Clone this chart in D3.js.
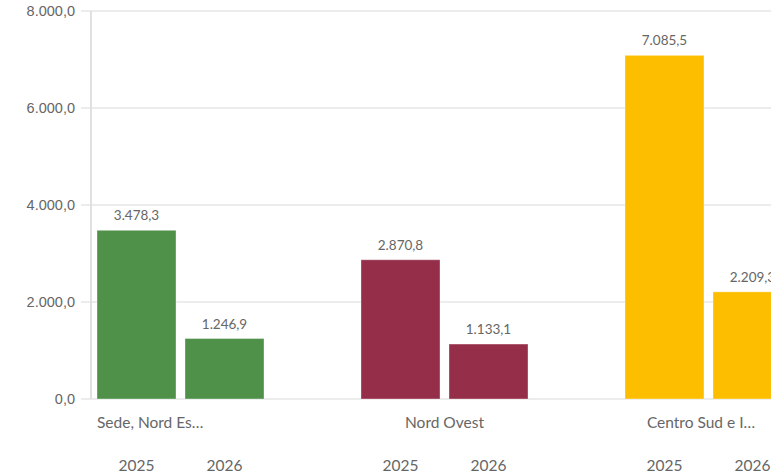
<!DOCTYPE html>
<html><head><meta charset="utf-8">
<script src="https://cdn.jsdelivr.net/npm/d3@7"></script>
<style>
html,body{margin:0;padding:0;background:#fff;overflow:hidden;}
svg{display:block;font-family:"Lato","Open Sans",sans-serif;}
</style></head>
<body><svg id="c" width="771" height="473"></svg>
<script>
const categories = ["Sede, Nord Es…", "Nord Ovest", "Centro Sud e I…"];
const years = ["2025", "2026"];
const values2025 = [3478.3, 2870.8, 7085.5];
const values2026 = [1246.9, 1133.1, 2209.3];
const colors = ["#4f9148", "#952e49", "#fdbe00"];
const yTicks = [0, 2000, 4000, 6000, 8000];

const W = 771, H = 473;
const svg = d3.select("#c");
const fmt = v => d3.formatLocale({decimal: ",", thousands: ".", grouping: [3], currency: ["", "€"]}).format(",.1f")(v);

const y = d3.scaleLinear().domain([0, 8000]).range([399, 11]);
const x0 = d3.scaleBand().domain(categories).range([97, 792]).paddingInner(0.3674).paddingOuter(0);
const x1 = d3.scaleBand().domain(years).range([0, x0.bandwidth()]).paddingInner(0.1023);

// grid
const grid = svg.append("g");
grid.selectAll("line").data(yTicks).join("line")
  .attr("x1", 81).attr("x2", W)
  .attr("y1", d => y(d)).attr("y2", d => y(d))
  .attr("stroke", "#e6e6e6").attr("stroke-width", 1.5);

// y axis
const yAxis = d3.axisLeft(y).tickValues(yTicks).tickFormat(fmt).tickSize(0).tickPadding(16);
const ga = svg.append("g").attr("transform", "translate(91,0)").call(yAxis);
ga.select(".domain").remove();
ga.selectAll("text").attr("fill", "#666").attr("font-size", 14.5).attr("dy", "0.32em");
svg.append("line").attr("x1", 91).attr("x2", 91).attr("y1", y(8000)).attr("y2", y(0))
  .attr("stroke", "#e0e0e0").attr("stroke-width", 2);

// bars
const rows = categories.map((c, i) => ({cat: c, color: colors[i], vals: [values2025[i], values2026[i]]}));
const g = svg.selectAll("g.grp").data(rows).join("g").attr("class", "grp")
  .attr("transform", d => `translate(${x0(d.cat)},0)`);
g.selectAll("rect").data(d => d.vals.map((v, j) => ({v, yr: years[j], color: d.color}))).join("rect")
  .attr("x", d => x1(d.yr)).attr("width", x1.bandwidth())
  .attr("y", d => y(d.v)).attr("height", d => y(0) - y(d.v))
  .attr("fill", d => d.color).attr("stroke", "#fff").attr("stroke-opacity", 0.35).attr("stroke-width", 1);
g.selectAll("text.val").data(d => d.vals.map((v, j) => ({v, yr: years[j]}))).join("text")
  .attr("class", "val")
  .attr("x", d => x1(d.yr) + x1.bandwidth() / 2).attr("y", d => y(d.v) - 10)
  .attr("text-anchor", "middle").attr("fill", "#666").attr("font-size", 13.5)
  .text(d => fmt(d.v));
// year labels
g.selectAll("text.yr").data(years).join("text").attr("class", "yr")
  .attr("x", d => x1(d) + x1.bandwidth() / 2).attr("y", 471)
  .attr("text-anchor", "middle").attr("fill", "#666").attr("font-size", 15.5)
  .text(d => d);
// category labels
svg.selectAll("text.cat").data(categories).join("text").attr("class", "cat")
  .each(function(d, i) {
    const s = x0(d), e = s + x0.bandwidth();
    const t = d3.select(this);
    if (!d.endsWith("…")) {
      t.attr("x", (s + e) / 2).attr("text-anchor", "middle");
    } else if (e > W) {
      t.attr("x", (s + W) / 2 + 3).attr("text-anchor", "middle");
    } else {
      t.attr("x", s).attr("text-anchor", "start");
    }
  })
  .attr("y", 428).attr("fill", "#666").attr("font-size", 15.5)
  .text(d => d);
</script></body></html>
